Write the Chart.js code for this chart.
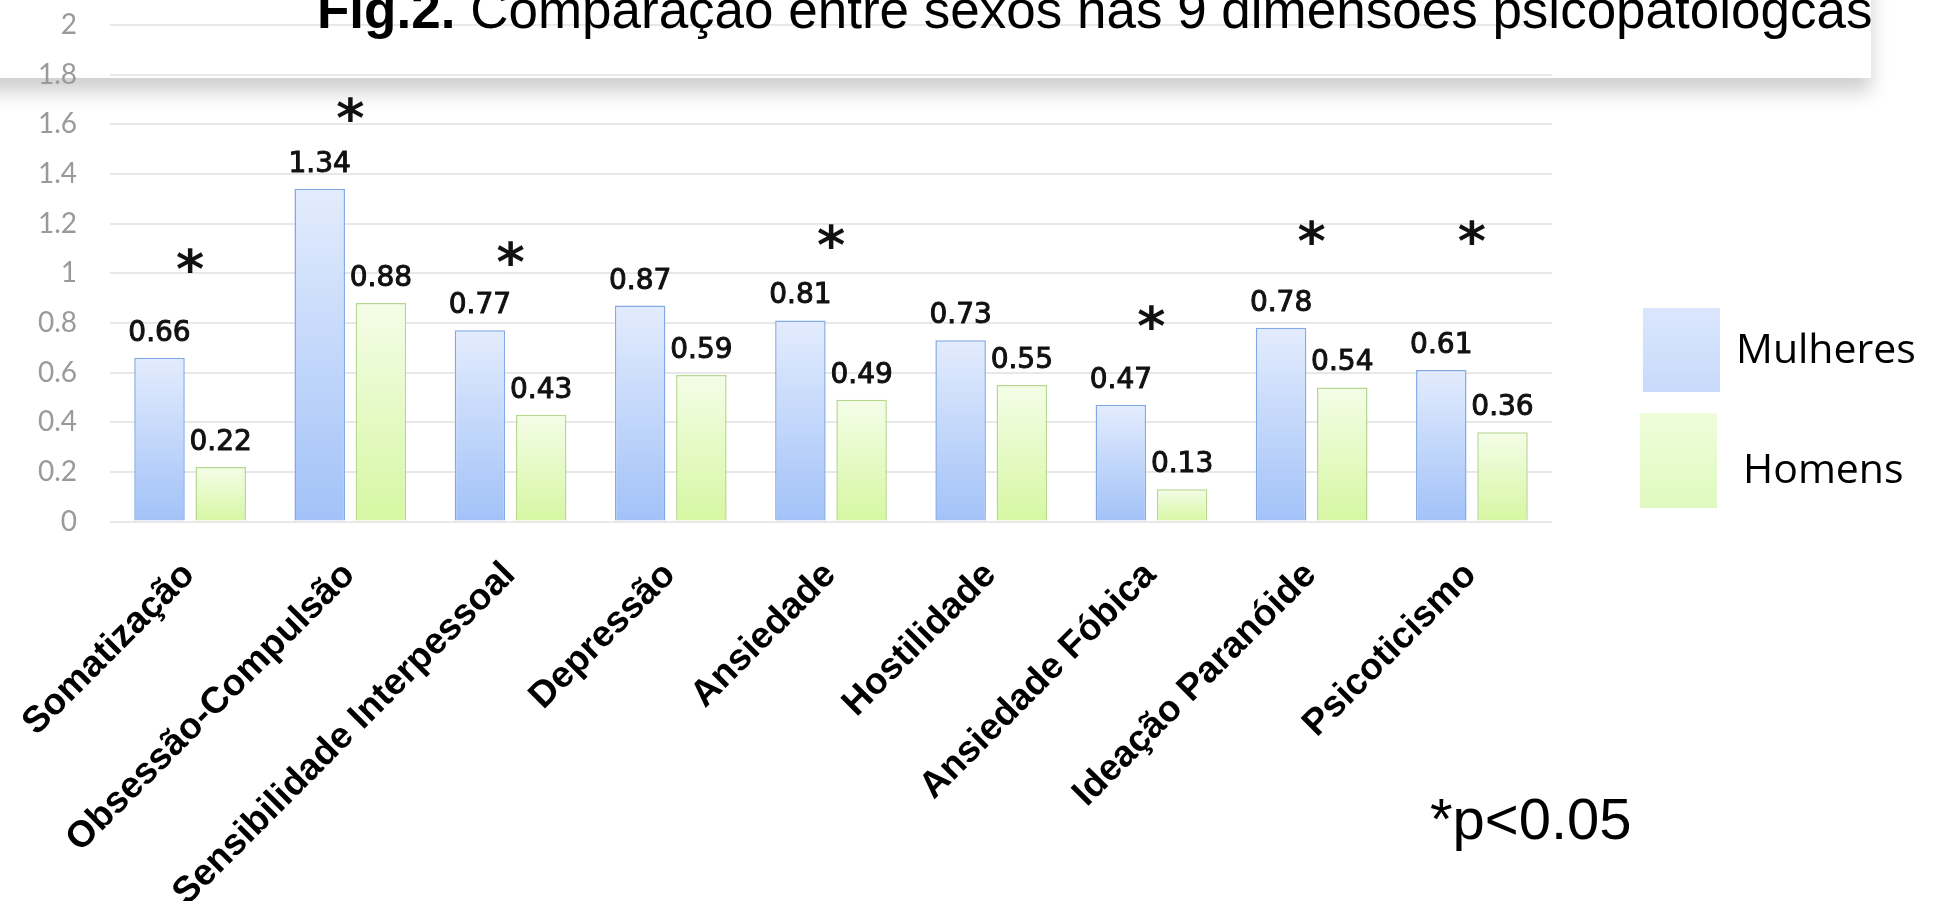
<!DOCTYPE html>
<html><head><meta charset="utf-8">
<script src="https://cdn.jsdelivr.net/npm/chart.js@4.4.1/dist/chart.umd.min.js"></script>
<style>html,body{margin:0;padding:0;background:#fff;}#wrap{position:relative;width:1947px;height:901px;}canvas{display:block;}</style>
</head><body><div id="wrap"><canvas id="c" width="1947" height="901"></canvas></div>
<script>
// ---- data ----
const categories = ['Somatização','Obsessão-Compulsão','Sensibilidade Interpessoal','Depressão','Ansiedade','Hostilidade','Ansiedade Fóbica','Ideação Paranóide','Psicoticismo'];
const mulheres = [0.66, 1.34, 0.77, 0.87, 0.81, 0.73, 0.47, 0.78, 0.61];
const homens = [0.22, 0.88, 0.43, 0.59, 0.49, 0.55, 0.13, 0.54, 0.36];
const significance = [1.05, 1.66, 1.08, null, 1.15, null, 0.82, 1.165, 1.165];
const yTicks = [0, 0.2, 0.4, 0.6, 0.8, 1, 1.2, 1.4, 1.6, 1.8, 2];
const seriesLabels = ['Mulheres', 'Homens'];
const titleBold = 'Fig.2.';
const titleRest = ' Comparação entre sexos nas 9 dimensões psicopatologcas';
const noteText = '*p<0.05';

// ---- styles ----
const BLUE = {top:'#e3ecfd', bottom:'#a2c2f8', border:'#82a9e6', legTop:'#dae6fd', legBottom:'#c8dafa'};
const GREEN = {top:'#f4fde8', bottom:'#d6f7a2', border:'#b6d78e', legTop:'#effdda', legBottom:'#dffac0'};

function barGradient(st) {
  return (ctx) => {
    const chart = ctx.chart;
    if (!chart.chartArea || ctx.type !== 'data') return st.bottom;
    const y = chart.scales.y;
    const y0 = y.getPixelForValue(0), y1 = y.getPixelForValue(ctx.raw);
    const g = chart.ctx.createLinearGradient(0, y1, 0, y0);
    g.addColorStop(0, st.top); g.addColorStop(1, st.bottom);
    return g;
  };
}

const decor = {
  id: 'decor',
  beforeDraw(chart) {
    const c = chart.ctx;
    c.save();
    c.fillStyle = '#ffffff';
    c.fillRect(0, 0, chart.width, chart.height);
    c.shadowColor = 'rgba(0,0,0,0.19)';
    c.shadowBlur = 18;
    c.shadowOffsetX = 0;
    c.shadowOffsetY = 14;
    c.fillRect(-60, -60, 1871 + 60, 78 + 60);
    c.restore();
  },
  afterDatasetsDraw(chart) {
    const c = chart.ctx;
    c.save();
    // value labels
    c.font = '28px "DejaVu Sans"';
    c.fillStyle = '#111';
    c.strokeStyle = '#111';
    c.lineWidth = 1;
    c.textAlign = 'center';
    c.textBaseline = 'alphabetic';
    chart.data.datasets.forEach((ds, di) => {
      const meta = chart.getDatasetMeta(di);
      meta.data.forEach((bar, i) => {
        const t = ds.data[i].toFixed(2);
        c.fillText(t, bar.x, bar.y - 17);
        c.strokeText(t, bar.x, bar.y - 17);
      });
    });
    // significance asterisks
    c.font = 'bold 54px "DejaVu Sans"';
    const m = c.measureText('*');
    const dy = (m.actualBoundingBoxAscent - m.actualBoundingBoxDescent) / 2;
    const xs = chart.scales.x, ys = chart.scales.y;
    significance.forEach((v, i) => {
      if (v == null) return;
      c.fillText('*', xs.getPixelForValue(i), ys.getPixelForValue(v) + dy);
    });
    c.restore();
  },
  afterDraw(chart) {
    const c = chart.ctx;
    c.save();
    c.fillStyle = '#000';
    c.textBaseline = 'alphabetic';
    c.textAlign = 'left';
    // title
    c.font = 'bold 53px "Liberation Sans"';
    c.fillText(titleBold, 317, 28);
    const w = c.measureText(titleBold).width;
    c.font = '53px "Liberation Sans"';
    c.fillText(titleRest, 317 + w, 28);
    // legend
    const items = [
      {st: BLUE, x: 1643, y: 308, w: 77, h: 84, tx: 1736, ty: 363, label: seriesLabels[0]},
      {st: GREEN, x: 1640, y: 413, w: 77, h: 95, tx: 1743, ty: 483, label: seriesLabels[1]}
    ];
    c.font = '41px "Open Sans"';
    items.forEach(it => {
      const g = c.createLinearGradient(0, it.y, 0, it.y + it.h);
      g.addColorStop(0, it.st.legTop); g.addColorStop(1, it.st.legBottom);
      c.fillStyle = g;
      c.fillRect(it.x, it.y, it.w, it.h);
      c.fillStyle = '#000';
      c.fillText(it.label, it.tx, it.ty);
    });
    // note
    c.font = '58px "Liberation Sans"';
    c.fillText(noteText, 1430, 839);
    c.restore();
  }
};

new Chart(document.getElementById('c'), {
  type: 'bar',
  data: {
    labels: categories,
    datasets: [
      {label: seriesLabels[0], data: mulheres, backgroundColor: barGradient(BLUE), borderColor: BLUE.border, borderWidth: 1.5},
      {label: seriesLabels[1], data: homens, backgroundColor: barGradient(GREEN), borderColor: GREEN.border, borderWidth: 1.5}
    ]
  },
  options: {
    responsive: false,
    animation: false,
    events: [],
    devicePixelRatio: 1,
    layout: {padding: {top: 25, right: 395, left: 0, bottom: 0}},
    datasets: {bar: {categoryPercentage: 0.764, barPercentage: 0.825}},
    plugins: {legend: {display: false}, title: {display: false}, tooltip: {enabled: false}},
    scales: {
      x: {
        grid: {display: false, drawTicks: false},
        border: {display: false},
        ticks: {
          color: '#000',
          font: {family: '"Liberation Sans", Arial', size: 37, weight: 'bold', lineHeight: 1.2},
          maxRotation: 45, minRotation: 45, autoSkip: false,
          labelOffset: -1, padding: 32
        },
        afterFit(s) { s.height = 379.5; s.paddingLeft = 0; s.paddingRight = 0; }
      },
      y: {
        min: 0, max: 2,
        grid: {color: '#e8e8e8', lineWidth: 2, drawTicks: true, tickLength: 33, tickColor: 'rgba(0,0,0,0)'},
        border: {display: false},
        afterBuildTicks(s) { s.ticks = yTicks.map(v => ({value: v})); },
        ticks: {
          color: '#9a9a9a',
          font: {family: 'Lato', size: 28},
          padding: 0,
          callback: (v) => String(v)
        },
        afterFit(s) { s.width = 110; }
      }
    }
  },
  plugins: [decor]
});
</script>
</body></html>
